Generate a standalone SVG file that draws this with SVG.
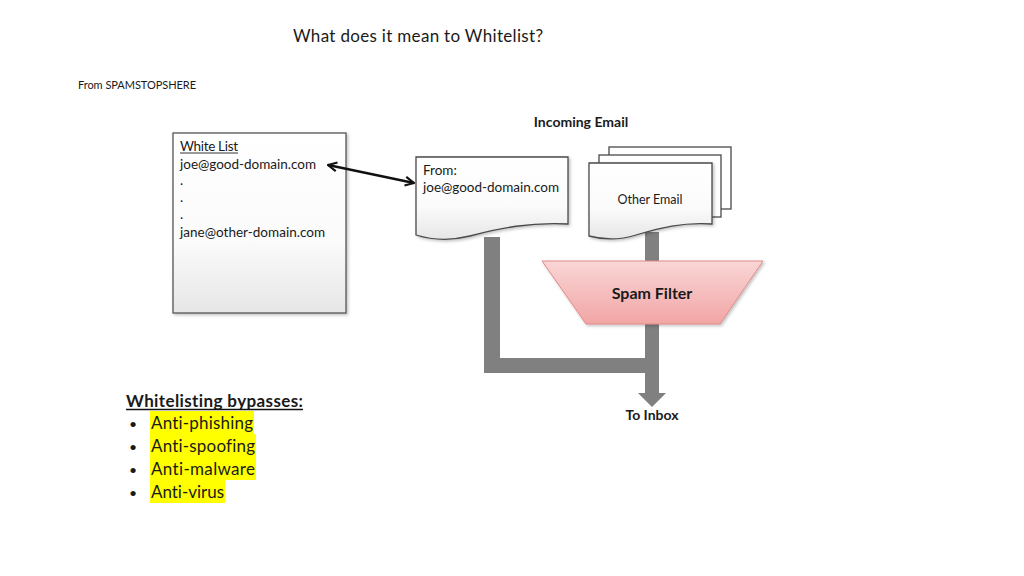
<svg xmlns="http://www.w3.org/2000/svg" width="1024" height="576" viewBox="0 0 1024 576">
<style>
text{font-family:Lato,"Open Sans","Liberation Sans",sans-serif;fill:#1a1a1a;font-variant-ligatures:none}
.doc{stroke:#4a4a4a;stroke-width:1.3}
.small{font-size:13.5px}
.b{font-weight:bold}
.pipe{fill:#808080}
.hl{fill:#ffff00}
.li{font-size:17px}
</style>
<defs>
<linearGradient id="paper" x1="0" y1="0" x2="0" y2="1">
<stop offset="0" stop-color="#ffffff"/>
<stop offset="0.6" stop-color="#fbfbfb"/>
<stop offset="1" stop-color="#e6e6e6"/>
</linearGradient>
<linearGradient id="pink" x1="0" y1="0" x2="0" y2="1">
<stop offset="0" stop-color="#f9d6d6"/>
<stop offset="1" stop-color="#f2a5a5"/>
</linearGradient>
<marker id="ah" viewBox="0 0 10 10" refX="9" refY="5" markerWidth="11" markerHeight="11" orient="auto-start-reverse" markerUnits="userSpaceOnUse">
<path d="M1,1 L9,5 L1,9" fill="none" stroke="#111" stroke-width="2"/>
</marker>
<filter id="sh" x="-10%" y="-10%" width="130%" height="130%">
<feDropShadow dx="1.5" dy="1.5" stdDeviation="1.5" flood-color="#000" flood-opacity="0.25"/>
</filter>
</defs>
<rect width="1024" height="576" fill="#ffffff"/>

<text x="293" y="42" font-size="17" textLength="250">What does it mean to Whitelist?</text>
<text x="78" y="89" font-size="11" textLength="118" fill="#333">From SPAMSTOPSHERE</text>

<g id="pipes">
<path class="pipe" d="M484,237 L500,237 L500,358 L645,358 L645,324 L659,324 L659,393 L666,393 L652,407 L638,393 L645,393 L645,373 L484,373 Z"/>
<rect class="pipe" x="645" y="232" width="14" height="30"/>
</g>

<g id="whitelist">
<rect x="173" y="133" width="173" height="180" fill="url(#paper)" stroke="#555" stroke-width="1.3" filter="url(#sh)"/>
<text x="180" y="151" class="small" textLength="58">White List</text>
<line x1="180" y1="153" x2="238" y2="153" stroke="#333" stroke-width="1"/>
<text x="180" y="169" class="small" textLength="136">joe@good-domain.com</text>
<text x="180" y="185" class="small">.</text>
<text x="180" y="202" class="small">.</text>
<text x="180" y="219" class="small">.</text>
<text x="180" y="237" class="small" textLength="145">jane@other-domain.com</text>
</g>

<g id="incoming-label">
<text x="581" y="127" font-size="14" class="b" text-anchor="middle">Incoming Email</text>
</g>

<g id="from-email">
<path class="doc" d="M416,157 L568,157 L568,224 C530,222 500,228 470,236 C450,241 432,240 416,235 Z" fill="url(#paper)" filter="url(#sh)"/>
<text x="423" y="175" class="small">From:</text>
<text x="423" y="192" class="small" textLength="136">joe@good-domain.com</text>
</g>

<g id="other-email">
<rect class="doc" x="609" y="147" width="122" height="62" fill="#fff"/>
<rect class="doc" x="599" y="155" width="122" height="62" fill="#fff"/>
<path class="doc" d="M589,163 L712,163 L712,224 C682,222 660,228 636,235 C620,240 604,240 589,236 Z" fill="url(#paper)" filter="url(#sh)"/>
<text x="650" y="204" font-size="12.5" text-anchor="middle">Other Email</text>
</g>

<g id="spam-filter">
<path d="M542,261 L763,261 L720,324 L586,324 Z" fill="url(#pink)" stroke="#e08a8a" stroke-width="1" filter="url(#sh)"/>
<text x="652" y="299" font-size="16" class="b" text-anchor="middle">Spam Filter</text>
</g>

<g id="to-inbox">
<text x="652" y="420" font-size="14" class="b" text-anchor="middle">To Inbox</text>
</g>

<g id="connectors">
<line x1="328" y1="165" x2="414" y2="183" stroke="#111" stroke-width="2.5" marker-start="url(#ah)" marker-end="url(#ah)"/>
</g>

<g id="bypasses">
<text x="126" y="407" font-size="17" class="b" textLength="177">Whitelisting bypasses:</text>
<line x1="126" y1="409.5" x2="303" y2="409.5" stroke="#111" stroke-width="1.3"/>
<rect class="hl" x="150" y="411" width="104" height="23"/>
<rect class="hl" x="150" y="434" width="106" height="23"/>
<rect class="hl" x="150" y="457" width="106" height="23"/>
<rect class="hl" x="150" y="480" width="75" height="23"/>
<text x="129" y="429" font-size="14">•</text>
<text x="129" y="452" font-size="14">•</text>
<text x="129" y="475" font-size="14">•</text>
<text x="129" y="498" font-size="14">•</text>
<text x="151" y="429" class="li" textLength="102">Anti-phishing</text>
<text x="151" y="452" class="li" textLength="104">Anti-spoofing</text>
<text x="151" y="475" class="li" textLength="104">Anti-malware</text>
<text x="151" y="498" class="li" textLength="73">Anti-virus</text>
</g>
</svg>
